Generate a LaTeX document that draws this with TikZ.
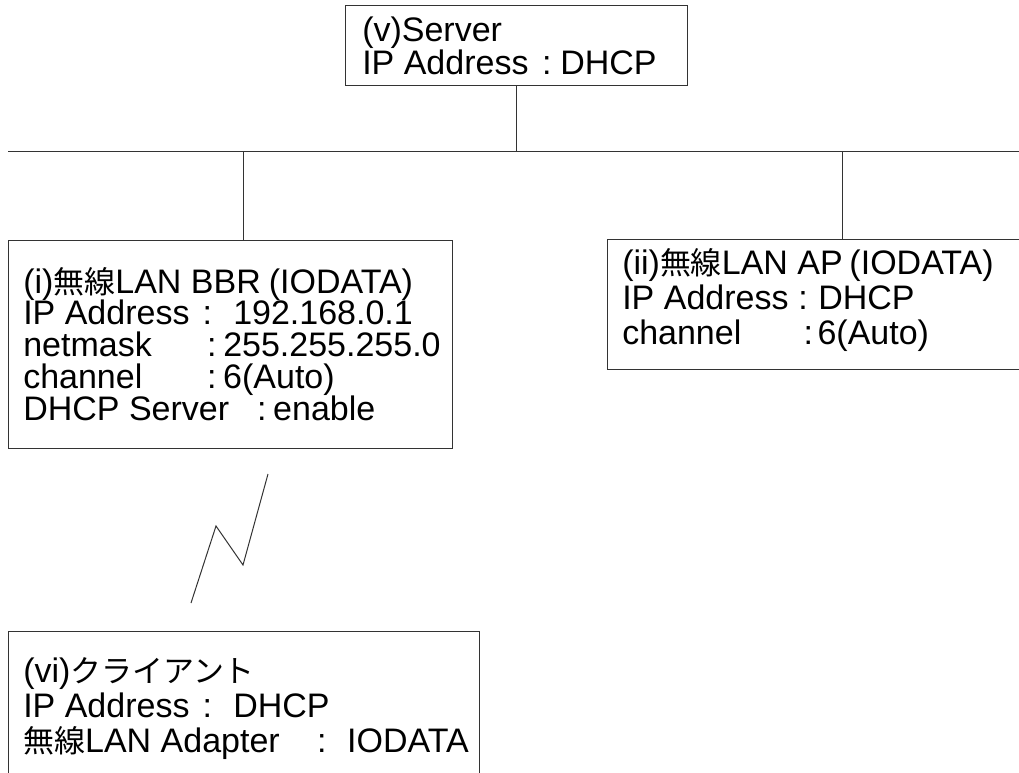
\documentclass[tikz,border=0pt]{standalone}
\usepackage{fontspec}
\setmainfont{Liberation Sans}
\newfontfamily\jp[Scale=0.91]{Noto Sans CJK JP}
\newcommand{\fld}[4]{\makebox[#1][l]{#2}\makebox[#3][l]{:}#4}

\begin{document}
\begin{tikzpicture}[x=0.75pt,y=-0.75pt,
  box/.style={draw=black!80, line width=0.75pt, anchor=north west, inner sep=0pt},
  txt/.style={anchor=base west, align=left, inner sep=0pt, font=\fontsize{25.5pt}{#1}\selectfont},
  wire/.style={draw=black!80, line width=0.75pt}]
\useasboundingbox (0,0) rectangle (1019,773);
\clip (0,0) rectangle (1019,773);

% boxes
\node[box, minimum width=256.5pt, minimum height=60pt] (srv) at (345,5) {};
\node[box, minimum width=333pt, minimum height=156pt] (bbr) at (8,240) {};
\node[box, minimum width=360pt, minimum height=97.5pt] (ap) at (607,239) {};
\node[box, minimum width=353.25pt, minimum height=120pt] (cli) at (8,631) {};

% texts (anchored at the baseline of the last line)
\node[txt=24.75pt] (srvtxt) at (362,75) {(v)Server\\
  \fld{135pt}{IP Address}{13.5pt}{DHCP}};
\node[txt=23.8pt] (bbrtxt) at (23,420) {(i){\jp 無線}LAN BBR\hspace{6pt}(IODATA)\\
  \fld{134.5pt}{IP Address}{23pt}{192.168.0.1}\\
  \fld{138pt}{netmask}{12pt}{255.255.255.0}\\
  \fld{138pt}{channel}{12pt}{6(Auto)}\\
  \fld{175.5pt}{DHCP Server}{12pt}{enable}};
\node[txt=25.9pt] (aptxt) at (622,344) {(ii){\jp 無線}LAN AP\hspace{5pt}(IODATA)\\
  \fld{132pt}{IP Address}{15pt}{DHCP}\\
  \fld{136pt}{channel}{10.5pt}{6(Auto)}};
\node[txt=26.25pt] (clitxt) at (23,752) {(vi){\jp クライアント}\\
  \fld{134.5pt}{IP Address}{23pt}{DHCP}\\
  \fld{220.5pt}{{\jp 無線}LAN Adapter}{22.5pt}{IODATA}};

% lines
\coordinate (busL) at (8,152);
\coordinate (busR) at (1019,152);
\coordinate (tapA) at (243,152);
\coordinate (tapB) at (842,152);
\draw[wire] (busL) -- (busR);
\draw[wire] (srv.south) -- (srv.south |- busL);
\draw[wire] (tapA) -- (tapA |- bbr.north);
\draw[wire] (tapB) -- (tapB |- ap.north);

% wireless link
\draw[wire] (268,474) -- (243,565) -- (216,526) -- (191,603);
\end{tikzpicture}
\end{document}
